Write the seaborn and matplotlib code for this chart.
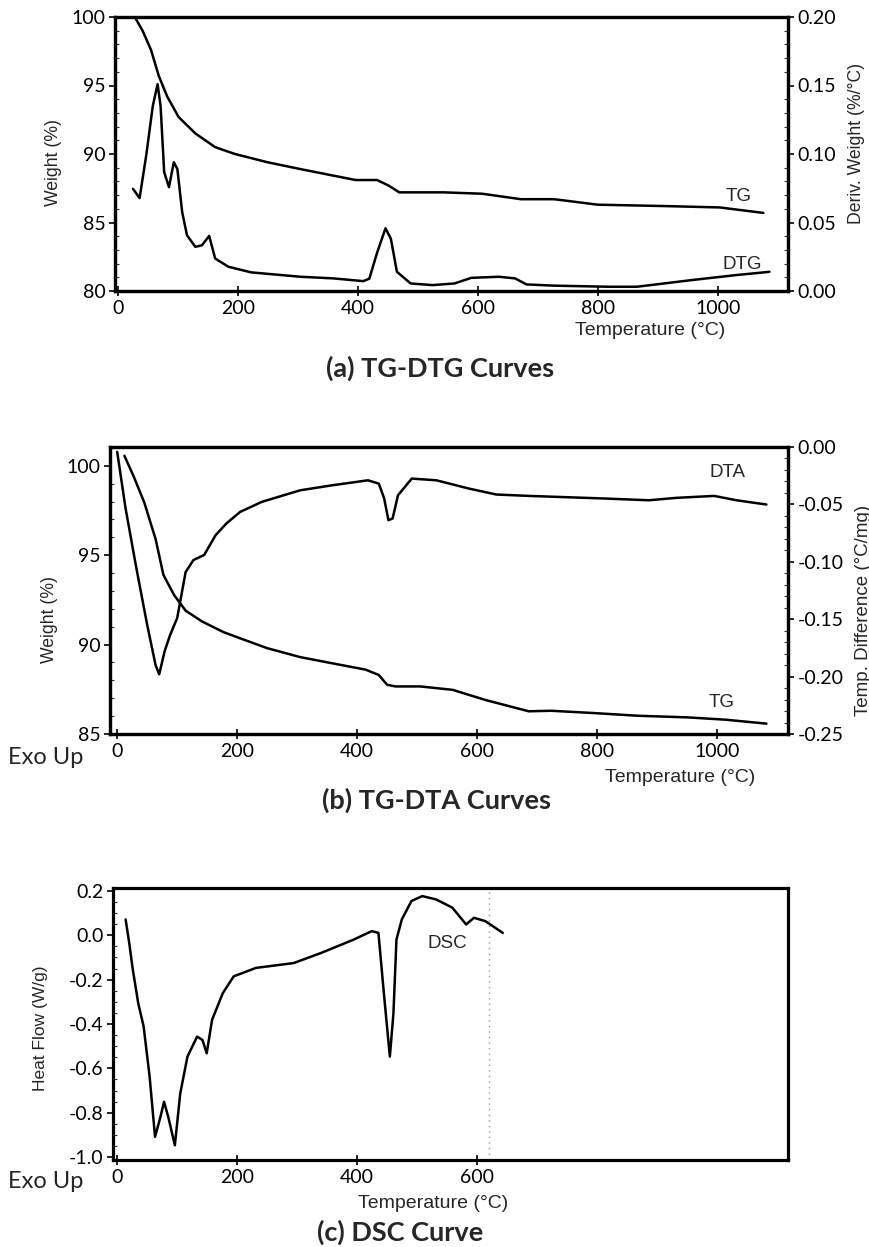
import matplotlib
matplotlib.use('Agg')
import matplotlib.pyplot as plt
import seaborn as sns
from matplotlib.ticker import MultipleLocator, FormatStrFormatter

# ---- (a) TG-DTG : dati ----
tga_temp = [28, 41, 55, 68, 82, 101, 129, 162, 195, 249, 304, 350, 396, 432, 451, 469,
            543, 607, 672, 727, 800, 911, 1003, 1076]
tga_wt = [100.0, 99.0, 97.6, 95.7, 94.2, 92.7, 91.5, 90.5, 90.0, 89.4, 88.9, 88.5, 88.1,
          88.1, 87.7, 87.2, 87.2, 87.1, 86.7, 86.7, 86.3, 86.2, 86.1, 85.7]
dtg_temp = [25, 36, 47, 58, 66, 71, 77, 85, 93, 99, 107, 115, 129, 140, 152, 162, 184, 222,
            304, 359, 409, 419, 432, 446, 455, 465, 488, 524, 561, 589, 635, 662, 681, 727,
            819, 865, 957, 1030, 1086]
dtg_val = [0.0746, 0.0678, 0.0988, 0.135, 0.151, 0.135, 0.0867, 0.0758, 0.094, 0.089,
           0.0576, 0.0407, 0.0322, 0.0334, 0.0402, 0.0237, 0.0177, 0.0136, 0.0104, 0.0092,
           0.0072, 0.009, 0.028, 0.0458, 0.038, 0.014, 0.0055, 0.0043, 0.0055, 0.0096,
           0.0104, 0.0092, 0.0048, 0.0039, 0.0031, 0.0031, 0.008, 0.0116, 0.014]

# ---- (b) TG-DTA ----
tgb_temp = [12, 27, 45, 64, 77, 95, 114, 141, 177, 205, 250, 305, 359, 414, 436, 450, 464,
            505, 559, 614, 686, 723, 795, 868, 950, 1014, 1082]
tgb_wt = [100.56, 99.44, 97.96, 95.9, 93.9, 92.76, 91.9, 91.3, 90.7, 90.35, 89.8, 89.3,
          88.95, 88.6, 88.3, 87.75, 87.66, 87.66, 87.47, 86.9, 86.27, 86.3, 86.17, 86.02,
          85.93, 85.8, 85.58]
dta_temp = [0, 14, 32, 50, 64, 70, 79, 88, 100, 114, 127, 145, 164, 182, 205, 241, 305,
            359, 418, 436, 445, 452, 459, 468, 491, 532, 586, 632, 686, 814, 886, 932, 995,
            1032, 1082]
dta_val = [-0.0043, -0.0536, -0.1057, -0.155, -0.19, -0.198, -0.178, -0.164, -0.149,
           -0.109, -0.0985, -0.094, -0.0768, -0.0666, -0.0565, -0.0478, -0.0377, -0.0333,
           -0.029, -0.0319, -0.0449, -0.0637, -0.0623, -0.042, -0.0275, -0.029, -0.0362,
           -0.0414, -0.0426, -0.0449, -0.0464, -0.0443, -0.0426, -0.0464, -0.0501]

# ---- (c) DSC ----
dsc_temp = [15, 21, 27, 36, 45, 55, 64, 73, 79, 86, 97, 106, 118, 134, 143, 150, 159, 177,
            195, 232, 295, 341, 395, 425, 436, 445, 455, 461, 466, 475, 491, 509, 532, 559,
            582, 595, 614, 643]
dsc_val = [0.072, -0.034, -0.155, -0.306, -0.411, -0.638, -0.909, -0.819, -0.751, -0.819,
           -0.947, -0.713, -0.547, -0.457, -0.472, -0.532, -0.381, -0.26, -0.185, -0.147,
           -0.125, -0.079, -0.019, 0.019, 0.011, -0.26, -0.547, -0.351, -0.019, 0.072,
           0.155, 0.177, 0.162, 0.125, 0.049, 0.079, 0.064, 0.011]

sns.set_theme(style='ticks')
plt.rcParams['font.family'] = ['Lato', 'DejaVu Sans']
plt.rcParams['axes.unicode_minus'] = False

W, H = 870, 1247
fig = plt.figure(figsize=(W / 100, H / 100), dpi=100)


def box(l, t, r, b):
    return [l / W, 1 - b / H, (r - l) / W, (b - t) / H]


def px(x, y):
    return x / W, 1 - y / H


ARIAL = ['Liberation Sans', 'DejaVu Sans']
NARROW = ['Liberation Sans Narrow', 'Liberation Sans', 'DejaVu Sans']
LW = 1.8


def style(ax):
    for s in ax.spines.values():
        s.set_linewidth(2.3)
        s.set_color('black')
    ax.tick_params(which='major', direction='out', length=4, width=1.2,
                   labelsize=14, pad=3, colors='black')
    ax.tick_params(which='minor', direction='in', length=3, width=0.8, colors='#333333')
    ax.tick_params(axis='x', which='major', direction='inout', length=7)


def curve(ax, x, y):
    sns.lineplot(x=x, y=y, ax=ax, color='black', linewidth=LW, sort=False,
                 estimator=None, legend=False)


# ---- PANNELLO (a) ----
ax1 = fig.add_axes(box(115, 17, 788, 291))
ax1b = ax1.twinx()
curve(ax1, tga_temp, tga_wt)
curve(ax1b, dtg_temp, dtg_val)
ax1.set_xlim(-5, 1117)
ax1.set_ylim(80, 100)
ax1b.set_ylim(0, 0.20)
ax1.set_xticks([0, 200, 400, 600, 800, 1000])
ax1.set_yticks([80, 85, 90, 95, 100])
ax1.yaxis.set_minor_locator(MultipleLocator(1))
ax1b.set_yticks([0, 0.05, 0.10, 0.15, 0.20])
ax1b.yaxis.set_major_formatter(FormatStrFormatter('%.2f'))
ax1b.yaxis.set_minor_locator(MultipleLocator(0.01))
for a in (ax1, ax1b):
    style(a)
ax1.set_xlabel('')
ax1.set_ylabel('Weight (%)', family=ARIAL, fontsize=12.7)
ax1b.set_ylabel('Deriv. Weight (%/°C)', family=ARIAL, fontsize=12.7)
ax1.yaxis.set_label_coords(-0.079, 0.47)
ax1b.yaxis.set_label_coords(1.089, 0.54)
ax1.text(1035, 86.9, 'TG', family=NARROW, fontsize=13.5, ha='center', va='center')
ax1b.text(1040, 0.019, 'DTG', family=NARROW, fontsize=13.5, ha='center', va='center')
fig.text(*px(650, 330), 'Temperature (°C)', family=NARROW, fontsize=14,
         ha='center', va='center')
fig.text(*px(440, 368), '(a) TG-DTG Curves', fontsize=19.5, fontweight='bold',
         ha='center', va='center')

# ---- PANNELLO (b) ----
ax2 = fig.add_axes(box(110, 447, 788, 734))
ax2b = ax2.twinx()
curve(ax2, tgb_temp, tgb_wt)
curve(ax2b, dta_temp, dta_val)
ax2.set_xlim(-12, 1118)
ax2.set_ylim(85, 101.05)
ax2b.set_ylim(-0.25, 0.0)
ax2.set_xticks([0, 200, 400, 600, 800, 1000])
ax2.set_yticks([85, 90, 95, 100])
ax2.yaxis.set_minor_locator(MultipleLocator(1))
ax2b.set_yticks([-0.25, -0.20, -0.15, -0.10, -0.05, 0.0])
ax2b.yaxis.set_major_formatter(FormatStrFormatter('%.2f'))
ax2b.yaxis.set_minor_locator(MultipleLocator(0.01))
for a in (ax2, ax2b):
    style(a)
ax2.set_xlabel('')
ax2.set_ylabel('Weight (%)', family=ARIAL, fontsize=12.7)
ax2b.set_ylabel('Temp. Difference (°C/mg)', family=ARIAL, fontsize=13.5)
ax2.yaxis.set_label_coords(-0.077, 0.40)
ax2b.yaxis.set_label_coords(1.099, 0.43)
ax2b.text(1018, -0.0226, 'DTA', family=NARROW, fontsize=13.5, ha='center', va='center')
ax2.text(1008, 86.74, 'TG', family=NARROW, fontsize=13.5, ha='center', va='center')
fig.text(*px(8, 757), 'Exo Up', fontsize=17, ha='left', va='center')
fig.text(*px(680, 777), 'Temperature (°C)', family=NARROW, fontsize=14,
         ha='center', va='center')
fig.text(*px(437, 800), '(b) TG-DTA Curves', fontsize=19.5, fontweight='bold',
         ha='center', va='center')

# ---- PANNELLO (c) ----
ax3 = fig.add_axes(box(113, 888, 788, 1160))
curve(ax3, dsc_temp, dsc_val)
ax3.axvline(620, color='#9a9a9a', linewidth=1.0, linestyle=(0, (1, 3)), zorder=0)
ax3.set_xlim(-6, 1118)
ax3.set_ylim(-1.0135, 0.2135)
ax3.set_xticks([0, 200, 400, 600])
ax3.set_yticks([-1.0, -0.8, -0.6, -0.4, -0.2, 0.0, 0.2])
ax3.yaxis.set_major_formatter(FormatStrFormatter('%.1f'))
ax3.yaxis.set_minor_locator(MultipleLocator(0.05))
style(ax3)
ax3.set_xlabel('')
ax3.set_ylabel('Heat Flow (W/g)', family=ARIAL, fontsize=12.5)
ax3.yaxis.set_label_coords(-0.096, 0.485)
ax3.text(550, -0.035, 'DSC', family=NARROW, fontsize=13.5, ha='center', va='center')
fig.text(*px(8, 1182), 'Exo Up', fontsize=17, ha='left', va='center')
fig.text(*px(433, 1203), 'Temperature (°C)', family=NARROW, fontsize=14,
         ha='center', va='center')
fig.text(*px(400, 1232), '(c) DSC Curve', fontsize=19.5, fontweight='bold',
         ha='center', va='center')

fig.savefig('out.png', dpi=100, facecolor='white')
